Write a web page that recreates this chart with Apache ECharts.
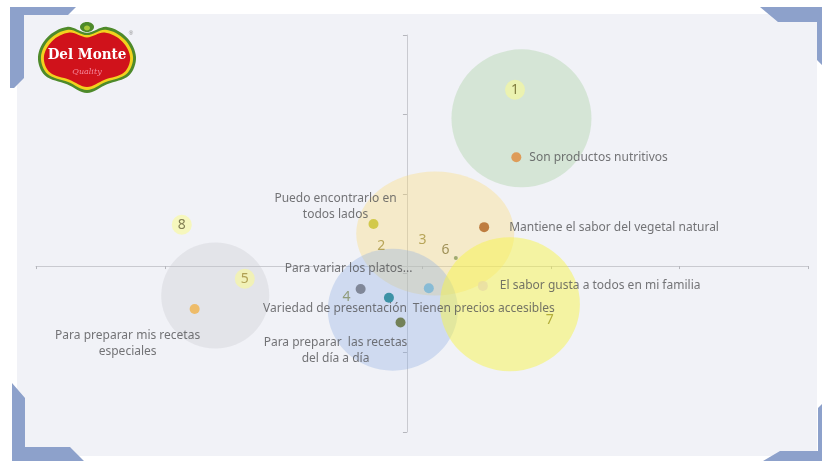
<!DOCTYPE html>
<html><head><meta charset="utf-8">
<script src="https://cdn.jsdelivr.net/npm/echarts@6/dist/echarts.min.js"></script>
<style>html,body{margin:0;padding:0;background:#fff}#c{width:822px;height:461px}</style>
</head><body><div id="c"></div>
<script>
const attrNames = [
  'Son productos nutritivos',
  'Mantiene el sabor del vegetal natural',
  'Puedo encontrarlo en\ntodos lados',
  'El sabor gusta a todos en mi familia',
  'Tienen precios accesibles',
  'Para variar los platos...',
  'Variedad de presentación',
  'Para preparar  las recetas\ndel día a día',
  'Para preparar mis recetas\nespeciales'
];
const attrX = [0.85, 0.60, -0.26, 0.59, 0.17, -0.36, -0.14, -0.05, -1.65];
const attrY = [1.37, 0.49, 0.53, -0.25, -0.28, -0.29, -0.40, -0.71, -0.54];

const brandLabels = ['1', '2', '3', '4', '5', '6', '7', '8'];
const brandX = [0.84, -0.20, 0.12, -0.47, -1.26, 0.30, 1.11, -1.75];
const brandY = [2.22, 0.25, 0.33, -0.39, -0.16, 0.20, -0.68, 0.52];

const clusterNames = ['1', '2-3-6', '5', '4', '7'];
const clusterX = [0.89, 0.22, -1.49, -0.11, 0.80];
const clusterY = [1.86, 0.41, -0.37, -0.55, -0.48];

const extraDotX = [0.38];
const extraDotY = [0.10];

// ---- Styles ----
const attrColors = ['#e08a3a', '#b0611e', '#c9c02c', '#e9dca4', '#74b4d6', '#6c7282', '#187f94', '#5b6a32', '#f0b24a'];
const attrLabelStyle = [
  {position: 'right', distance: 8, align: 'left'},
  {position: 'right', distance: 20, align: 'left'},
  {position: 'inside', offset: [-38, -17]},
  {position: 'right', distance: 12, align: 'left'},
  {position: 'inside', offset: [55, 20]},
  {position: 'inside', offset: [-12, -21]},
  {position: 'inside', offset: [-54, 11]},
  {position: 'inside', offset: [-65, 28]},
  {position: 'inside', offset: [-67, 35]}
];
const clusterStyle = [
  {size: [140, 138], color: 'rgba(150,200,140,0.38)'},
  {size: [158, 124], color: 'rgba(252,218,120,0.45)'},
  {size: [108, 106], color: 'rgba(195,196,204,0.38)'},
  {size: [130, 122], color: 'rgba(140,172,225,0.42)'},
  {size: [140, 134], color: 'rgba(246,244,70,0.6)'}
];
const brandGlow = {'1': true, '5': true, '8': true};
const brandColors = {'1': '#676224', '2': '#a8943c', '3': '#a8943c', '4': '#7f8c5c', '5': '#a08c3a', '6': '#8a7a3a', '7': '#a39c1e', '8': '#66623a'};

const X0 = -2.883, Y0 = -2.09;

const chart = echarts.init(document.getElementById('c'));
const font = '"Noto Sans", sans-serif';

// logo cartouche outline in a 100x70 box
const cardPts = [[50,8],[70,2],[90,13],[99,33],[92,52],[70,61],[50,70],[30,61],[8,52],[1,33],[10,13],[30,2]];
function card(x, y, w, h) {
  return cardPts.map(p => [x + p[0] * w / 100, y + p[1] * h / 70]);
}

chart.setOption({
  animation: false,
  backgroundColor: '#ffffff',
  grid: {left: 36, right: 14, top: 35, bottom: 29, containLabel: false},
  xAxis: {
    type: 'value', min: X0, max: X0 + 6, interval: 1,
    axisLine: {onZero: true, lineStyle: {color: '#c9cad0', width: 1}},
    axisTick: {show: true, length: 3, lineStyle: {color: '#b5b6bc'}},
    axisLabel: {show: false}, splitLine: {show: false}
  },
  yAxis: {
    type: 'value', min: Y0, max: Y0 + 5, interval: 1,
    axisLine: {onZero: true, lineStyle: {color: '#c9cad0', width: 1}},
    axisTick: {show: true, length: 4, lineStyle: {color: '#b5b6bc'}},
    axisLabel: {show: false}, splitLine: {show: false}
  },
  graphic: [
    {type: 'rect', z: -10, shape: {x: 17, y: 14, width: 800, height: 442}, style: {fill: '#f1f2f7'}},
    {type: 'polygon', z: 50, shape: {points: [[10,7],[76,7],[68,15],[24,15],[24,78],[14,88],[10,88]]}, style: {fill: '#8da1cb'}},
    {type: 'polygon', z: 50, shape: {points: [[12,383],[25,398],[25,447],[70,447],[84,461],[12,461]]}, style: {fill: '#8da1cb'}},
    {type: 'polygon', z: 50, shape: {points: [[763,461],[780,451],[818,451],[818,408],[822,404],[822,461]]}, style: {fill: '#8da1cb'}},
    {type: 'polygon', z: 50, shape: {points: [[760,7],[822,7],[822,65],[817,60],[817,22],[778,22]]}, style: {fill: '#8da1cb'}},
    // logo
    {type: 'polygon', z: 60, shape: {points: card(37, 25, 100, 68), smooth: 0.35}, style: {fill: '#4e8a2a'}},
    {type: 'polygon', z: 61, shape: {points: card(40, 28, 94, 62), smooth: 0.35}, style: {fill: '#f2d21e'}},
    {type: 'polygon', z: 62, shape: {points: card(43, 31, 88, 56), smooth: 0.35}, style: {fill: '#d0121b'}},
    {type: 'ellipse', z: 63, shape: {cx: 87, cy: 27, rx: 7, ry: 5}, style: {fill: '#4e8a2a'}},
    {type: 'ellipse', z: 64, shape: {cx: 87, cy: 28, rx: 3, ry: 2.5}, style: {fill: '#a8c83a'}},
    {type: 'text', z: 65, x: 87, y: 55, style: {text: 'Del Monte', fill: '#ffffff', font: 'bold 15px "DejaVu Serif Condensed", "DejaVu Serif", serif', align: 'center', verticalAlign: 'middle'}},
    {type: 'text', z: 65, x: 87, y: 72, style: {text: 'Quality', fill: '#f4889c', font: 'italic 8px "DejaVu Serif", serif', align: 'center', verticalAlign: 'middle'}},
    {type: 'text', z: 65, x: 131, y: 33, style: {text: '®', fill: '#8a8a8a', font: '6px sans-serif', align: 'center', verticalAlign: 'middle'}}
  ],
  series: [
    {
      type: 'scatter', z: 1, silent: true,
      data: clusterNames.map((n, i) => ({
        name: n, value: [clusterX[i], clusterY[i]],
        symbolSize: clusterStyle[i].size,
        itemStyle: {color: clusterStyle[i].color}
      })),
      symbol: 'circle'
    },
    {
      type: 'scatter', z: 3, silent: true,
      data: brandLabels.map((n, i) => ({
        name: n, value: [brandX[i], brandY[i]],
        symbolSize: brandGlow[n] ? 20 : 0,
        itemStyle: {color: 'rgba(250,250,150,0.75)'},
        label: {color: brandColors[n]}
      })),
      label: {show: true, position: 'inside', formatter: '{b}', fontSize: 14, fontFamily: font}
    },
    {
      type: 'scatter', z: 4, silent: true, symbolSize: 4,
      data: extraDotX.map((x, i) => [x, extraDotY[i]]),
      itemStyle: {color: '#8a9a5a'}
    },
    {
      type: 'scatter', z: 5, silent: true, symbolSize: 10,
      data: attrNames.map((n, i) => ({
        name: n, value: [attrX[i], attrY[i]],
        itemStyle: {color: attrColors[i]},
        label: Object.assign({show: true}, attrLabelStyle[i])
      })),
      label: {formatter: '{b}', color: '#535355', fontSize: 12, fontFamily: font, lineHeight: 16, align: 'center'}
    }
  ]
});
</script></body></html>
